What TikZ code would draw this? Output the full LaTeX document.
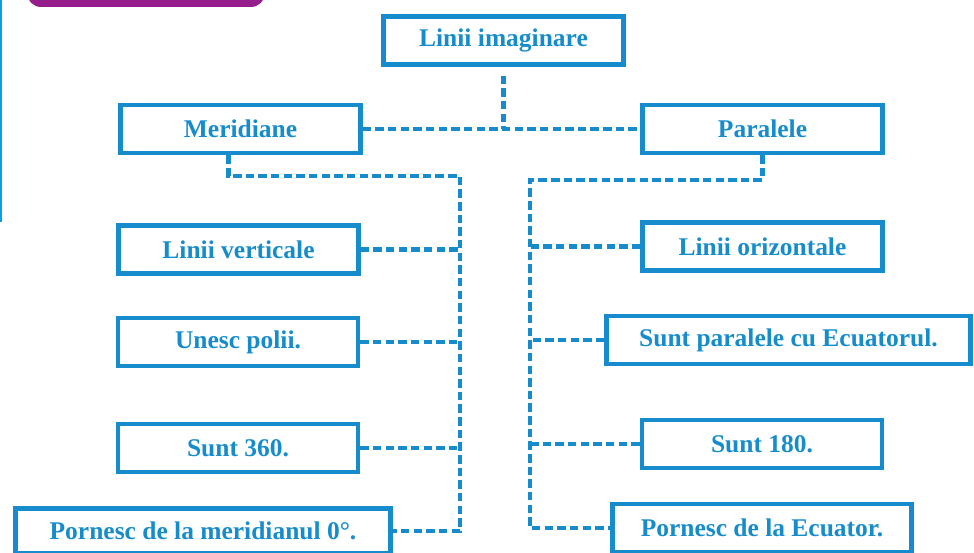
\documentclass[tikz,border=0pt]{standalone}
\usepackage{fontspec}
\setmainfont{Liberation Serif}
\usepackage{xcolor}
\usepackage{tikz}
\usetikzlibrary{positioning, calc}
\definecolor{primary}{RGB}{22, 140, 204}
\definecolor{highlight}{RGB}{150, 30, 140}
\definecolor{edge}{RGB}{10, 160, 225}
\tikzstyle{card} = [rectangle, draw=primary, line width=2.6pt, minimum width=4.8cm, minimum height=0.96cm, inner sep=0pt, text=primary, font=\fontsize{14.5}{17}\selectfont\bfseries]
\tikzstyle{link} = [draw=primary, line width=2.4pt, dash pattern=on 4.8pt off 2.4pt]

\begin{document}
\begin{tikzpicture}[x=0.02cm, y=-0.02cm]
    \useasboundingbox (0,0) rectangle (974,553);
    % Page decoration
    \fill[highlight, rounded corners=8pt] (27,-40) rectangle (265,7);
    \draw[edge, line width=1.7pt] (1,0) -- (1,222);

    \node[card] (root) at (503.5,40.5) {Linii imaginare};
    \node[card] (mer) at (240.5,129) {Meridiane};
    \node[card] (par) at (762.5,129) {Paralele};

    \node[card] (m1) at (238.5,249.5) {Linii verticale};
    \node[card] (m2) at (238,342) {Unesc polii.};
    \node[card] (m3) at (238,448) {Sunt 360.};
    \node[card, minimum width=7.5cm, minimum height=0.9cm] (m4) at (203,531) {Pornesc de la meridianul 0°.};

    \node[card] (p1) at (762.5,246.5) {Linii orizontale};
    \node[card, minimum width=7.28cm] (p2) at (788.5,340) {Sunt paralele cu Ecuatorul.};
    \node[card] (p3) at (762,444) {Sunt 180.};
    \node[card, minimum width=5.98cm, minimum height=0.96cm] (p4) at (762,528) {Pornesc de la Ecuator.};

    \coordinate (mtrunk) at (460,176);
    \coordinate (ptrunk) at (530,180);

    % Connectors
    \draw[link, shorten <=5pt] (root.south) -- (root.south |- mer.east);
    \draw[link] (mer.east) -- (par.west);
    \draw[link] ([xshift=-0.24cm]mer.south) |- (mtrunk) |- (m4.east);
    \draw[link] (m1.east) -- (m1.east -| mtrunk);
    \draw[link] (m2.east) -- (m2.east -| mtrunk);
    \draw[link] (m3.east) -- (m3.east -| mtrunk);
    \draw[link] (par.south) |- (ptrunk) |- (p4.west);
    \draw[link] (p1.west) -- (p1.west -| ptrunk);
    \draw[link] (p2.west) -- (p2.west -| ptrunk);
    \draw[link] (p3.west) -- (p3.west -| ptrunk);
\end{tikzpicture}
\end{document}
